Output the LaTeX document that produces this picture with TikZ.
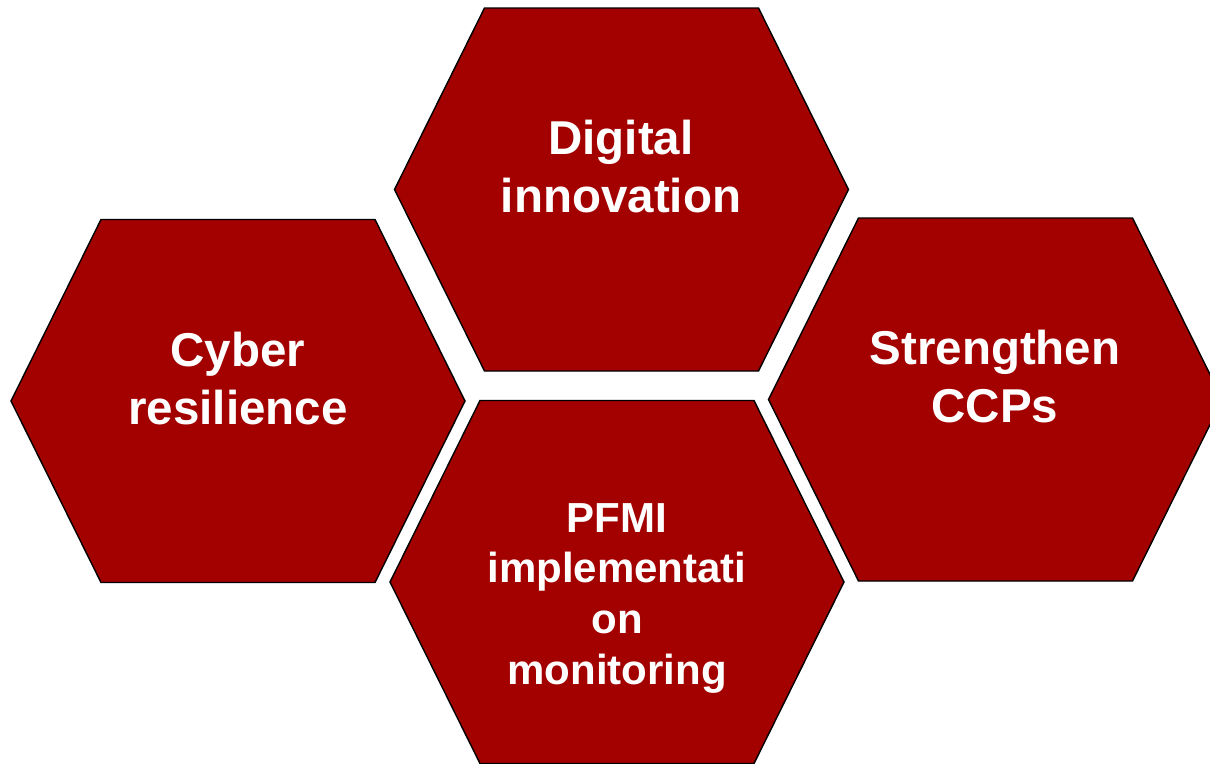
\documentclass[tikz,border=0pt]{standalone}
\usepackage{fontspec}
\setmainfont{Liberation Sans}

\definecolor{hexred}{RGB}{163,0,0}

\tikzset{
  hexcell/.style={fill=hexred,draw=black,line width=1.4pt,line join=miter},
  celltext/.style={text=white,align=center,inner sep=0pt,anchor=north,
    font=\fontsize{47.5}{58}\selectfont\bfseries},
  smalltext/.style={celltext,font=\fontsize{42}{50.7}\selectfont\bfseries}
}

\begin{document}
\begin{tikzpicture}[x=1pt,y=-1pt]
  \useasboundingbox (0,0) rectangle (1210,763);
  \clip (0,0) rectangle (1210,763);
  % four hexagonal cells, flat top and bottom
  \foreach \cx/\cy in {621.5/189.5, 238/401, 995.5/399.5, 617/582}
    \draw[hexcell,shift={(\cx,\cy)}] (-227,0) -- (-137,-181.5) -- (137,-181.5)
      -- (227,0) -- (137,181.5) -- (-137,181.5) -- cycle;
  % labels
  \node[celltext] (digital) at (621,120) {Digital\\innovation};
  \node[celltext] (cyber) at (238,332) {Cyber\\resilience};
  \node[celltext] (ccps) at (995,330) {Strengthen\\CCPs};
  \node[smalltext] (pfmi) at (617,503) {PFMI\\implementati\\on\\monitoring};
\end{tikzpicture}
\end{document}
